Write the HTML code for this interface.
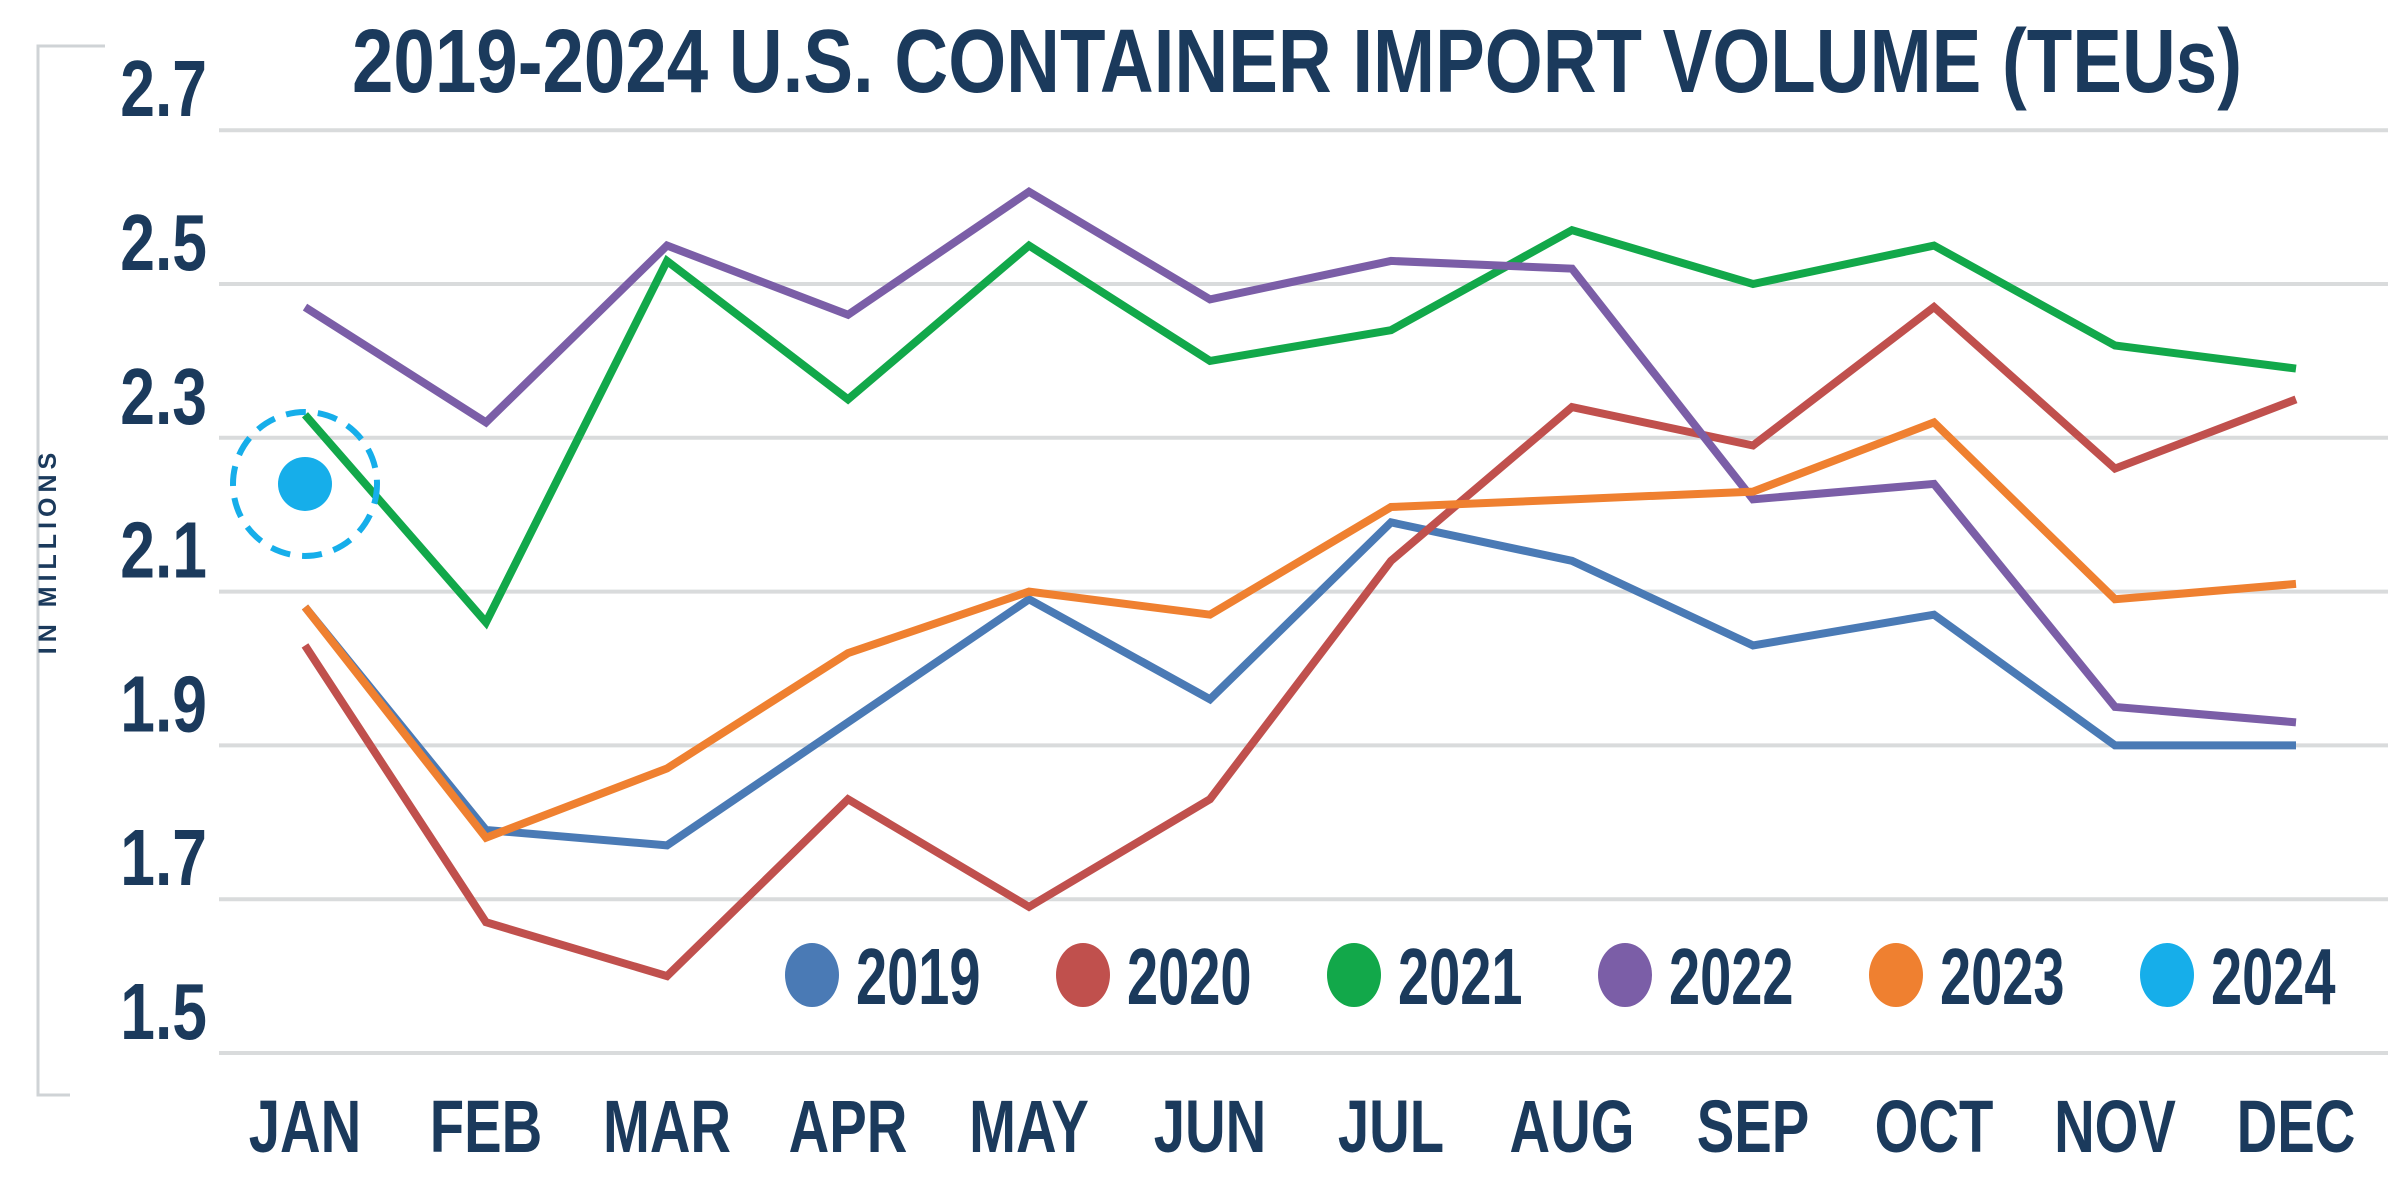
<!DOCTYPE html>
<html><head><meta charset="utf-8"><style>
html,body{margin:0;padding:0;background:#fff;}
svg{display:block;font-family:"Liberation Sans",sans-serif;}
</style></head><body>
<svg id="chart" width="2400" height="1180" viewBox="0 0 2400 1180" xmlns="http://www.w3.org/2000/svg">
<text x="1297" y="92" text-anchor="middle" font-size="90" font-weight="bold" fill="#1b3a5c" textLength="1890" lengthAdjust="spacingAndGlyphs">2019-2024 U.S. CONTAINER IMPORT VOLUME (TEUs)</text>
<path d="M105 46 H38 V1095 H70" fill="none" stroke="#cfd3d6" stroke-width="3"/>
<text transform="translate(56,551) rotate(-90)" text-anchor="middle" font-size="25" font-weight="bold" fill="#1b3a5c" letter-spacing="5">IN MILLIONS</text>
<g id="grid"></g><g id="lines"></g><g id="legend"></g>
</svg>
<script>
const months = ["JAN","FEB","MAR","APR","MAY","JUN","JUL","AUG","SEP","OCT","NOV","DEC"];
const yTicks = [1.5,1.7,1.9,2.1,2.3,2.5,2.7];
const years = ["2019","2020","2021","2022","2023","2024"];
const v2019 = [2.08,1.79,1.77,1.93,2.09,1.96,2.19,2.14,2.03,2.07,1.90,1.90];
const v2020 = [2.03,1.67,1.60,1.83,1.69,1.83,2.14,2.34,2.29,2.47,2.26,2.35];
const v2021 = [2.33,2.06,2.53,2.35,2.55,2.40,2.44,2.57,2.50,2.55,2.42,2.39];
const v2022 = [2.47,2.32,2.55,2.46,2.62,2.48,2.53,2.52,2.22,2.24,1.95,1.93];
const v2023 = [2.08,1.78,1.87,2.02,2.10,2.07,2.21,2.22,2.23,2.32,2.09,2.11];
const v2024 = [2.24];
const colors = ["#4a7ab5","#c0504d","#12a84a","#7b5ea7","#ef8030","#16aeea"];

const NS="http://www.w3.org/2000/svg";
const xS = i => 305 + i*181;
const yS = v => 1053 - (v-1.5)/0.2*153.8;
function mk(tag, attrs, parent){const e=document.createElementNS(NS,tag);for(const k in attrs)e.setAttribute(k,attrs[k]);parent.appendChild(e);return e;}
const grid=document.getElementById('grid'), lines=document.getElementById('lines'), legend=document.getElementById('legend');

yTicks.forEach(t=>{
  const l=mk('line',{x1:219,x2:2388,y1:yS(t),y2:yS(t),stroke:'#d9dbdc','stroke-width':4},grid);
  
  
  const tx=mk('text',{x:0,y:0,'text-anchor':'end','font-size':80,'font-weight':'bold',fill:'#1b3a5c',transform:`translate(207,${yS(t)-14}) scale(0.78,1)`},grid);
  tx.textContent=t.toFixed(1);
  
  
});
months.forEach((m,i)=>{
  const tx=mk('text',{x:0,y:0,'text-anchor':'middle','font-size':74,'font-weight':'bold',fill:'#1b3a5c',transform:`translate(${xS(i)},1152) scale(0.76,1)`},grid);
  tx.textContent=m;
  
  
});
const series=[v2019,v2020,v2021,v2022,v2023];
series.forEach((s,k)=>{
  const p=mk('polyline',{points:s.map((v,i)=>xS(i)+','+yS(v)).join(' '),fill:'none',stroke:colors[k],'stroke-width':8,'stroke-linejoin':'miter'},lines);
  
  
});
v2024.forEach((v,i)=>{
  const r=mk('circle',{cx:xS(i),cy:yS(v),r:72,fill:'none',stroke:colors[5],'stroke-width':6,'stroke-dasharray':'20 12'},lines);
  
  
  const d=mk('circle',{cx:xS(i),cy:yS(v),r:27,fill:colors[5]},lines);
  
  
});
years.forEach((y,k)=>{
  const cx=812+k*271;
  const e=mk('ellipse',{cx:cx,cy:975,rx:27,ry:32,fill:colors[k]},legend);
  
  
  const t=mk('text',{x:0,y:0,'font-size':80,'font-weight':'bold',fill:'#1b3a5c',transform:`translate(${cx+44},1004) scale(0.7,1)`},legend);
  t.textContent=y;
  
  
});
</script>
</body></html>
